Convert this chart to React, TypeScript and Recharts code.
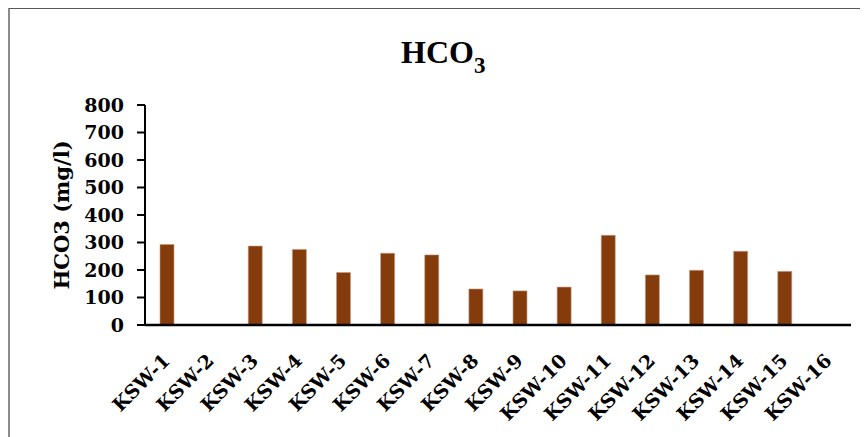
import { BarChart, Bar, XAxis, YAxis } from "recharts";

// Bicarbonate readings per sampling well (mg/l); KSW-2 and KSW-16 have no reading
const wells = [
  "KSW-1", "KSW-2", "KSW-3", "KSW-4", "KSW-5", "KSW-6", "KSW-7", "KSW-8",
  "KSW-9", "KSW-10", "KSW-11", "KSW-12", "KSW-13", "KSW-14", "KSW-15", "KSW-16",
];
const hco3 = [
  293, null, 287, 275, 191, 261, 255, 131,
  124, 138, 326, 182, 199, 268, 195, null,
];
const yTicks = [0, 100, 200, 300, 400, 500, 600, 700, 800];

const data = wells.map((well, i) => ({ well, hco3: hco3[i] }));

const FONT = "'DejaVu Serif', serif";

const WellTick = ({ x, y, payload }: any) => (
  <text
    x={0}
    y={0}
    textAnchor="end"
    transform={`translate(${x + 4},${y + 29}) rotate(-45)`}
    fontFamily={FONT}
    fontWeight="bold"
    fontSize={19}
    fill="#000"
  >
    {payload.value}
  </text>
);

const App = () => {
  return (
    <div
      style={{
        position: "relative",
        width: 860,
        height: 429,
        borderTop: "1px solid #595959",
        borderLeft: "2px solid #8c8c8c",
        boxSizing: "border-box",
        background: "#fff",
      }}
    >
      <svg
        width={858}
        height={90}
        style={{ position: "absolute", left: 0, top: 0 }}
      >
        <text
          x={391}
          y={54}
          fontFamily="'Liberation Serif', serif"
          fontWeight="bold"
          fontSize={32}
          fill="#000"
        >
          HCO
          <tspan dy={10} fontSize={23}>
            3
          </tspan>
        </text>
      </svg>
      <BarChart
        width={858}
        height={428}
        data={data}
        margin={{ top: 96, right: 17, left: 35, bottom: 12 }}
        barSize={14}
      >
        <XAxis
          dataKey="well"
          height={100}
          interval={0}
          tickLine={false}
          axisLine={{ stroke: "#000", strokeWidth: 2.5 }}
          tick={<WellTick />}
        />
        <YAxis
          width={100}
          domain={[0, 800]}
          ticks={yTicks}
          interval={0}
          tickSize={8}
          tickMargin={13}
          axisLine={{ stroke: "#000", strokeWidth: 2 }}
          tickLine={{ stroke: "#000", strokeWidth: 2 }}
          tick={{
            fontFamily: FONT,
            fontWeight: "bold",
            fontSize: 19,
            fill: "#000",
          }}
          label={{
            value: "HCO3 (mg/l)",
            angle: -90,
            position: "insideLeft",
            offset: 17,
            style: {
              textAnchor: "middle",
              fontFamily: FONT,
              fontWeight: "bold",
              fontSize: 21,
              fill: "#000",
            },
          }}
        />
        <Bar
          dataKey="hco3"
          fill="#843c0c"
          stroke="#c49a82"
          strokeWidth={0.6}
          isAnimationActive={false}
        />
      </BarChart>
    </div>
  );
};

export default App;
